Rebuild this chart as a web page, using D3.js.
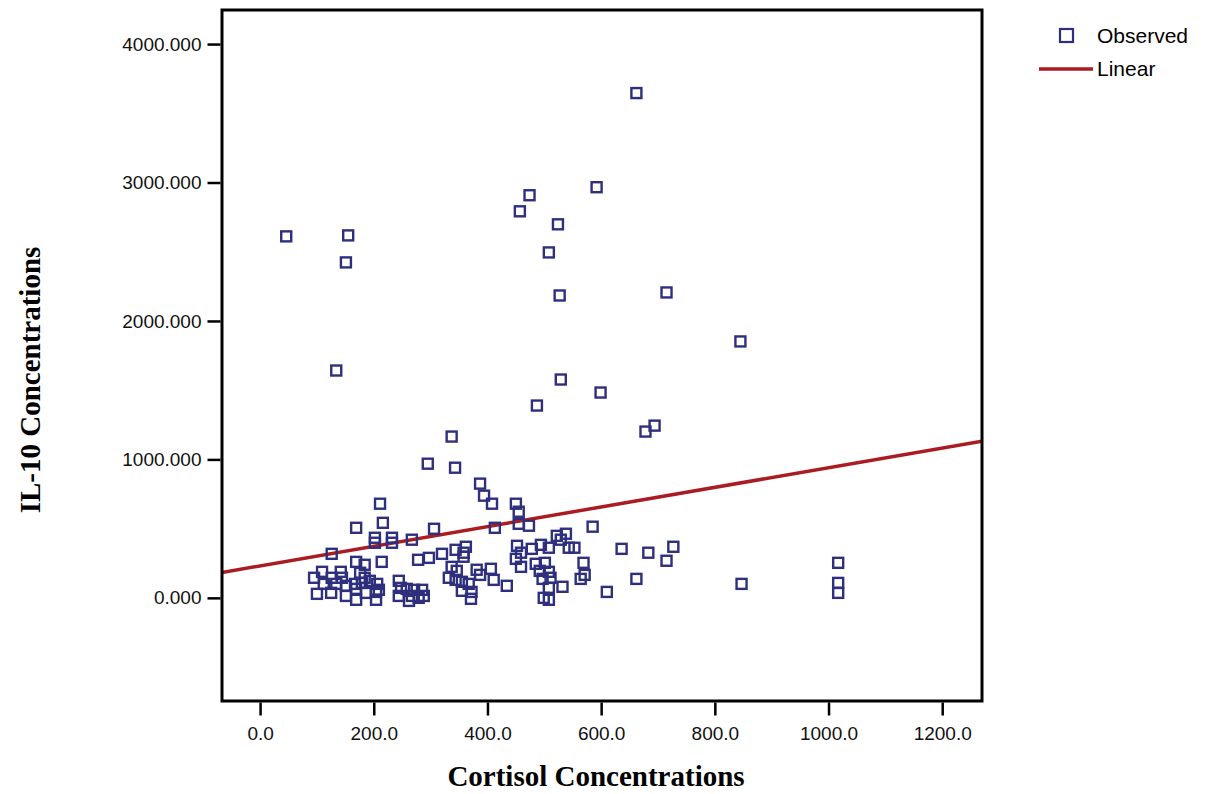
<!DOCTYPE html>
<html>
<head>
<meta charset="utf-8">
<script src="https://cdn.jsdelivr.net/npm/d3@7"></script>
<style>
  body { margin: 0; background: #fff; }
</style>
</head>
<body>
<svg width="1207" height="794"></svg>
<script>
var svg = d3.select('svg');

// cortisol (x) and IL-10 (y)
var cortisol = [46, 155, 151, 134, 662, 592, 474, 457, 524, 508, 527, 715, 845, 529, 599, 487, 694, 678,
  337, 295, 343, 387, 394, 408, 450, 455, 211, 216, 169, 413, 455, 473, 585, 306, 202, 202, 232, 232, 267, 126,
  169, 184, 214, 278, 297, 320, 344, 358, 362, 358, 337, 346, 381, 387, 406, 452, 459, 478, 494, 508,
  522, 538, 529, 543, 553, 450, 459, 485, 501, 492, 508, 511, 497, 569, 571, 564, 636, 683, 727, 715,
  662, 610, 532, 508, 499, 508, 434, 411, 332, 344, 355, 367, 355, 372, 371, 847, 1017, 1017, 1017,
  109, 142, 95, 126, 144, 176, 184, 193, 112, 134, 151, 167, 179, 206, 209, 169, 244, 248, 258, 271, 285,
  100, 125, 151, 169, 186, 204, 244, 267, 279, 262, 204, 288];
var il10 = [2611, 2618, 2423, 1642, 3646, 2966, 2908, 2792, 2698, 2495, 2184, 2206, 1852, 1577, 1483, 1389, 1244, 1201,
  1165, 969, 940, 825, 738, 680, 680, 622, 680, 542, 506, 506, 535, 521, 514, 499, 434, 398, 434, 398, 420, 318,
  260, 239, 260, 275, 289, 318, 347, 326, 369, 297, 224, 195, 203, 166, 210, 376, 326, 354, 383, 362,
  448, 463, 420, 362, 362, 282, 224, 246, 253, 195, 188, 145, 137, 253, 166, 137, 354, 326, 369, 268,
  137, 43, 80, 72, 0, -14, 87, 130, 145, 130, 116, 101, 51, 43, -7, 101, 253, 108, 36,
  188, 188, 145, 145, 145, 181, 145, 123, 101, 101, 87, 101, 108, 101, 58, 65, 123, 72, 65, 58, 58,
  29, 36, 14, -14, 36, -14, 14, 14, 0, -22, 43, 14];

// linear fit as drawn
var fitIntercept = 231;
var fitSlope = 0.709;

var xTicks = [0, 200, 400, 600, 800, 1000, 1200];
var yTicks = [0, 1000, 2000, 3000, 4000];

var pL = 222, pR = 982, pT = 10, pB = 701;

var x = d3.scaleLinear().domain([-67, 1270]).range([pL, pR]);
var y = d3.scaleLinear().domain([-745, 4246]).range([pB, pT]);

var navy = '#2e2f7d';
var red = '#ab1c22';
var sans = '"Liberation Sans", Arial, sans-serif';
var serif = '"Liberation Serif", "Times New Roman", serif';

// axes
var xAxis = svg.append('g')
  .attr('transform', 'translate(0,' + (pB + 1.5) + ')')
  .call(d3.axisBottom(x).tickValues(xTicks).tickFormat(d3.format('.1f')).tickSize(13).tickPadding(11));
var yAxis = svg.append('g')
  .attr('transform', 'translate(' + (pL - 1.5) + ',0)')
  .call(d3.axisLeft(y).tickValues(yTicks).tickFormat(d3.format('.3f')).tickSize(13).tickPadding(6));

[xAxis, yAxis].forEach(function(a) {
  a.select('.domain').remove();
  a.selectAll('line').attr('stroke', 'black').attr('stroke-width', 2.5);
  a.selectAll('text').style('font-size', '19px').style('font-family', sans).attr('fill', '#111');
});

// fit line, clipped to the frame
svg.append('clipPath').attr('id', 'plotclip')
  .append('rect').attr('x', pL).attr('y', pT).attr('width', pR - pL).attr('height', pB - pT);

var xd = x.domain();
svg.append('line')
  .attr('clip-path', 'url(#plotclip)')
  .attr('x1', x(xd[0])).attr('y1', y(fitIntercept + fitSlope * xd[0]))
  .attr('x2', x(xd[1])).attr('y2', y(fitIntercept + fitSlope * xd[1]))
  .attr('stroke', red).attr('stroke-width', 3.5);

// observed points
var pts = cortisol.map(function(c, i) { return { c: c, v: il10[i] } });
svg.selectAll('rect.pt')
  .data(pts).enter()
  .append('rect').attr('class', 'pt')
  .attr('x', function(d) { return x(d.c) - 5 })
  .attr('y', function(d) { return y(d.v) - 5 })
  .attr('width', 10).attr('height', 10)
  .attr('fill', 'none')
  .attr('stroke', navy).attr('stroke-width', 2.4);

// frame
svg.append('rect')
  .attr('x', pL).attr('y', pT)
  .attr('width', pR - pL).attr('height', pB - pT)
  .attr('fill', 'none').attr('stroke', 'black').attr('stroke-width', 3);

// axis titles
svg.append('text')
  .attr('x', 596).attr('y', 786)
  .attr('text-anchor', 'middle')
  .style('font-family', serif).style('font-weight', 'bold').style('font-size', '29px')
  .text('Cortisol Concentrations');
svg.append('text')
  .attr('transform', 'translate(40,380) rotate(-90)')
  .attr('text-anchor', 'middle')
  .style('font-family', serif).style('font-weight', 'bold').style('font-size', '29px')
  .text('IL-10 Concentrations');

// legend
var lg = svg.append('g');
lg.append('rect').attr('x', 1060).attr('y', 29).attr('width', 13).attr('height', 13)
  .attr('fill', 'none').attr('stroke', navy).attr('stroke-width', 2.2);
lg.append('text').attr('x', 1097).attr('y', 43).style('font-size', '21px').style('font-family', sans).text('Observed');
lg.append('line').attr('x1', 1039).attr('x2', 1093).attr('y1', 69).attr('y2', 69)
  .attr('stroke', red).attr('stroke-width', 3.5);
lg.append('text').attr('x', 1097).attr('y', 76).style('font-size', '21px').style('font-family', sans).text('Linear');
</script>
</body>
</html>
